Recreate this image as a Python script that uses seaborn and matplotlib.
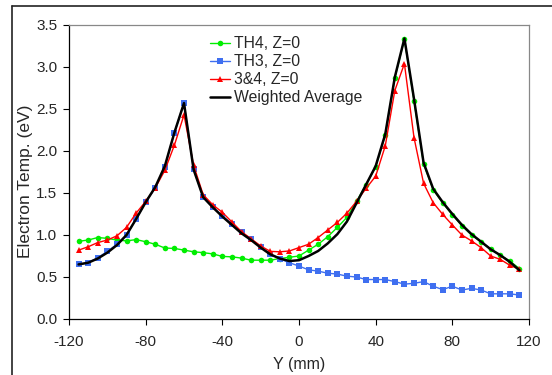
import matplotlib
matplotlib.use("Agg")
import matplotlib.pyplot as plt
import seaborn as sns
import pandas as pd
import numpy as np
from matplotlib.lines import Line2D

y_mm = list(range(-115, 120, 5))

th4 = [0.925, 0.94, 0.97, 0.96, 0.94, 0.93, 0.945, 0.92, 0.89, 0.845,
       0.84, 0.82, 0.80, 0.79, 0.775, 0.745, 0.74, 0.725, 0.70, 0.70,
       0.70, 0.72, 0.735, 0.75, 0.82, 0.89, 0.98, 1.09, 1.21, 1.40,
       1.60, 1.81, 2.19, 2.87, 3.33, 2.60, 1.845, 1.54, 1.38, 1.24,
       1.11, 1.00, 0.92, 0.83, 0.76, 0.69, 0.60]

th3 = [0.65, 0.67, 0.73, 0.805, 0.89, 1.00, 1.19, 1.39, 1.56, 1.81,
       2.22, 2.57, 1.78, 1.45, 1.33, 1.23, 1.13, 1.03, 0.95, 0.86,
       0.775, 0.715, 0.67, 0.63, 0.585, 0.57, 0.545, 0.535, 0.51, 0.50,
       0.47, 0.47, 0.47, 0.445, 0.415, 0.425, 0.445, 0.39, 0.35, 0.39,
       0.345, 0.365, 0.345, 0.30, 0.30, 0.30, 0.285]

comb = [0.82, 0.86, 0.91, 0.94, 0.99, 1.09, 1.26, 1.40, 1.56, 1.77,
        2.07, 2.43, 1.83, 1.48, 1.36, 1.27, 1.155, 1.04, 0.955, 0.87,
        0.805, 0.80, 0.81, 0.85, 0.89, 0.97, 1.06, 1.15, 1.26, 1.40,
        1.555, 1.70, 2.06, 2.72, 3.04, 2.16, 1.615, 1.385, 1.245, 1.12,
        1.00, 0.93, 0.85, 0.75, 0.71, 0.64, 0.59]

wavg = [0.65, 0.67, 0.72, 0.79, 0.88, 1.00, 1.19, 1.39, 1.57, 1.82,
        2.22, 2.57, 1.78, 1.45, 1.33, 1.22, 1.12, 1.02, 0.94, 0.85,
        0.77, 0.72, 0.69, 0.70, 0.75, 0.81, 0.90, 1.01, 1.16, 1.38,
        1.60, 1.82, 2.20, 2.88, 3.34, 2.62, 1.86, 1.55, 1.39, 1.25,
        1.12, 1.01, 0.92, 0.83, 0.76, 0.68, 0.58]

labels = ["TH4, Z=0", "TH3, Z=0", "3&4, Z=0", "Weighted Average"]
x_ticks = [-120, -80, -40, 0, 40, 80, 120]
y_ticks = [0.0, 0.5, 1.0, 1.5, 2.0, 2.5, 3.0, 3.5]

df = pd.DataFrame({"Y": y_mm, "TH4": th4, "TH3": th3, "C34": comb, "WAVG": wavg})

sns.set_theme(style="white")
plt.rcParams['font.family'] = ['Liberation Sans', 'DejaVu Sans']

FS = 11

fig = plt.figure(figsize=(5.52, 3.75), dpi=100)
ax = fig.add_axes([69/552, 1 - 319/375, 460/552, 294/375])

sns.lineplot(data=df, x="Y", y="TH4", ax=ax, color="#00EE00", lw=1.0,
             marker="o", markersize=4, markeredgewidth=0, label=labels[0])
sns.lineplot(data=df, x="Y", y="TH3", ax=ax, color="#3F6FF0", lw=1.0,
             marker="s", markersize=5, markeredgewidth=0, label=labels[1])
sns.lineplot(data=df, x="Y", y="C34", ax=ax, color="#FF0000", lw=1.0,
             marker="^", markersize=5, markeredgewidth=0, label=labels[2])
sns.lineplot(data=df, x="Y", y="WAVG", ax=ax, color="black", lw=1.8,
             label=labels[3])

ax.set_xlim(-120, 120)
ax.set_ylim(0, 3.5)
ax.set_xticks(x_ticks)
ax.set_xticklabels([str(t) for t in x_ticks])
ax.set_yticks(y_ticks)
ax.set_yticklabels([f"{t:.1f}" for t in y_ticks])
ax.set_xlabel("Y (mm)", fontsize=11.5, labelpad=6)
ax.set_ylabel("Electron Temp. (eV)", fontsize=12.5)
ax.yaxis.set_label_coords((33 - 69) / 460, 1 - (181 - 25) / 294)
ax.tick_params(axis="both", labelsize=FS, length=4.5, width=0.8, direction="out",
               bottom=True, left=True, color="black")
ax.tick_params(axis="x", pad=7)
ax.tick_params(axis="y", pad=4)

for s in ["left", "bottom"]:
    ax.spines[s].set_color("black")
    ax.spines[s].set_linewidth(0.9)
for s in ["top", "right"]:
    ax.spines[s].set_color("#888888")
    ax.spines[s].set_linewidth(0.9)

leg = ax.legend(loc="upper left", bbox_to_anchor=((210 - 69) / 460, 1 - (36 - 25) / 294),
                frameon=False, fontsize=11.3, handlelength=1.25, handletextpad=0.3,
                labelspacing=0.2, borderpad=0.0, borderaxespad=0.0)

fig.add_artist(Line2D([11.5/552, 11.5/552], [0, 1 - 5.5/375], transform=fig.transFigure,
                      color="#222222", lw=1.2))
fig.add_artist(Line2D([11.5/552, 1], [1 - 5.5/375, 1 - 5.5/375], transform=fig.transFigure,
                      color="#222222", lw=1.2))

fig.savefig("out.png", dpi=100)
